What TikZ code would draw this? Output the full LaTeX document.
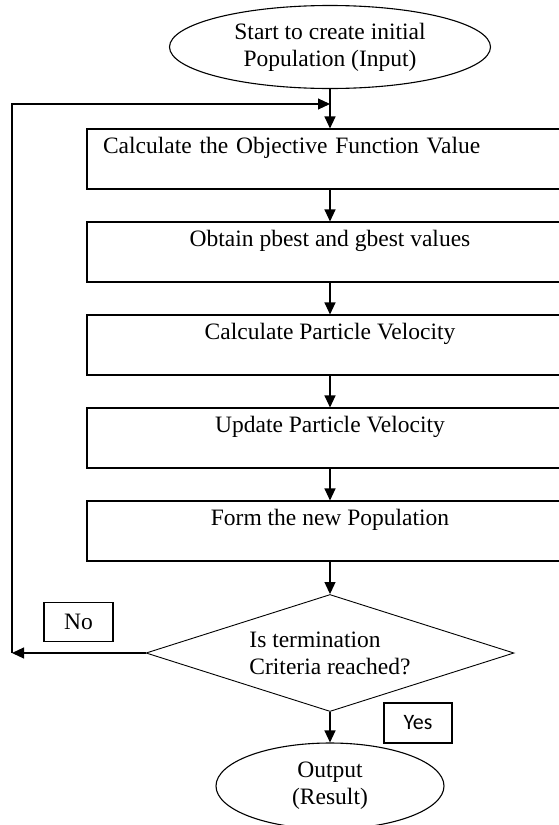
\documentclass[tikz,border=0pt]{standalone}
\usepackage{fontspec}
\setmainfont{Liberation Serif}
\newfontfamily\yesfont{Carlito}
\usetikzlibrary{shapes}
\usetikzlibrary{arrows.meta}

\begin{document}
\begin{tikzpicture}[x=1pt, y=-1pt, line width=1.1pt,
  every node/.style={draw, inner sep=0pt, font=\fontsize{23.5}{27}\selectfont},
  term/.style={ellipse, align=center},
  stepbox/.style={rectangle, minimum width=486pt, text height=24pt, text depth=36pt, align=center},
  flow/.style={-{Triangle[length=12pt,width=11pt]}}]
\useasboundingbox (0,0) rectangle (558,825);
\node[term, minimum width=321pt, minimum height=83pt] (S) at (330,47) {Start to create initial\\Population (Input)};
\node[stepbox, text width=454pt, inner xsep=16pt, align=left] (B1) at (330,159) {Calculate the Objective Function Value};
\node[stepbox] (B2) at (330,252) {Obtain pbest and gbest values};
\node[stepbox] (B3) at (330,345) {Calculate Particle Velocity};
\node[stepbox] (B4) at (330,438) {Update Particle Velocity};
\node[stepbox] (B5) at (330,531) {Form the new Population};
\node[diamond, line width=0.9pt, minimum width=368pt, minimum height=117pt, aspect=3.15, align=left] (D) at (330,653) {Is termination\\Criteria reached?};
\node[minimum width=69pt, minimum height=39pt] (N) at (78.5,622) {No};
\node[minimum width=68pt, minimum height=40pt, font=\yesfont\fontsize{22}{26}\selectfont] (Y) at (418,723) {Yes};
\node[term, minimum width=228pt, minimum height=86pt] (O) at (330,786) {Output\\(Result)};
\coordinate (L) at (12,653);
\coordinate (J) at (330,104);
\draw[flow] (S) -- (B1);
\draw[flow] (B1) -- (B2);
\draw[flow] (B2) -- (B3);
\draw[flow] (B3) -- (B4);
\draw[flow] (B4) -- (B5);
\draw[flow] (B5.south) -- (D.north);
\draw[flow] (D.south) -- (O.north);
\draw[flow] (D.west) -- (L);
\draw[flow] (L) |- (J);
\end{tikzpicture}
\end{document}
